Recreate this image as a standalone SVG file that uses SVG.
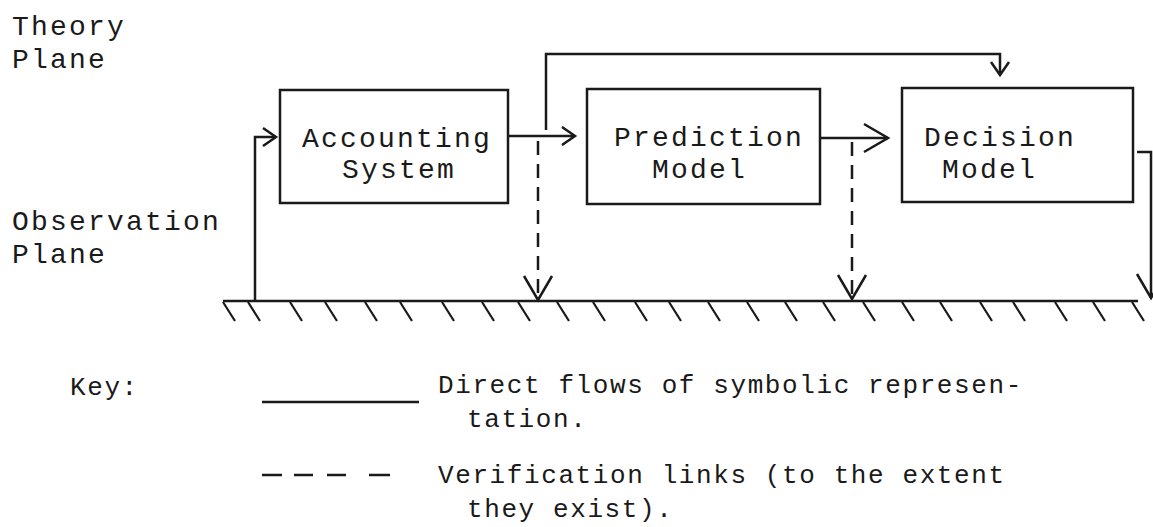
<svg xmlns="http://www.w3.org/2000/svg" width="1153" height="527" viewBox="0 0 1153 527">
<style>
text{font-family:"Liberation Mono","DejaVu Sans Mono",monospace;fill:#1a1a1a}
.lbl{font-size:28px;letter-spacing:2.2px}
.key{font-size:26px;letter-spacing:1.6px}
.box{fill:none;stroke:#1a1a1a;stroke-width:2.5}
.ln{fill:none;stroke:#1a1a1a;stroke-width:2.5}
.dash{fill:none;stroke:#1a1a1a;stroke-width:2.5;stroke-dasharray:14 9}
.hatch{stroke:#1a1a1a;stroke-width:2.2;fill:none}
</style>
<defs>
<marker id="sm" markerUnits="userSpaceOnUse" markerWidth="20" markerHeight="24" refX="14" refY="10" orient="auto" overflow="visible">
<path d="M1,1 L14,10 L1,19" fill="none" stroke="#1a1a1a" stroke-width="2.5"/>
</marker>
<marker id="lg" markerUnits="userSpaceOnUse" markerWidth="30" markerHeight="32" refX="24" refY="14" orient="auto" overflow="visible">
<path d="M0,0 L24,14 L0,28" fill="none" stroke="#1a1a1a" stroke-width="2.5"/>
</marker>
</defs>

<g id="labels">
<text class="lbl" x="12" y="35">Theory</text>
<text class="lbl" x="12" y="68">Plane</text>
<text class="lbl" x="12" y="230">Observation</text>
<text class="lbl" x="12" y="263">Plane</text>
</g>

<g id="accounting">
<rect class="box" x="280" y="90" width="228" height="113"/>
<text class="lbl" x="302" y="147">Accounting</text>
<text class="lbl" x="342" y="178">System</text>
</g>

<g id="prediction">
<rect class="box" x="587" y="89" width="233" height="115"/>
<text class="lbl" x="614" y="146">Prediction</text>
<text class="lbl" x="652" y="178">Model</text>
</g>

<g id="decision">
<rect class="box" x="902" y="88" width="231" height="114"/>
<text class="lbl" x="924" y="146">Decision</text>
<text class="lbl" x="942" y="178">Model</text>
</g>

<g id="ground">
<path class="ln" d="M223,301 H1138"/>
<path class="hatch" d="M223,302 l12,19 M248,302 l12,19 M290,302 l12,19 M325,302 l12,19 M365,302 l12,19 M400,302 l12,19 M442,302 l12,19 M482,302 l12,19 M518,302 l12,19 M557,302 l12,19 M593,302 l12,19 M635,302 l12,19 M669,302 l12,19 M708,302 l12,19 M747,302 l12,19 M785,302 l12,19 M823,302 l12,19 M863,302 l12,19 M902,302 l12,19 M940,302 l12,19 M980,302 l12,19 M1013,302 l12,19 M1055,302 l12,19 M1093,302 l12,19 M1132,302 l12,19"/>
</g>

<g id="connectors">
<path class="ln" d="M255,300 V137 H276" marker-end="url(#sm)"/>
<path class="ln" d="M508,136 H575" marker-end="url(#sm)"/>
<path class="ln" d="M546,130 V54 H1000 V75" marker-end="url(#sm)"/>
<path class="dash" d="M538,141 V300" marker-end="url(#lg)"/>
<path class="ln" d="M820,138 H888" marker-end="url(#lg)"/>
<path class="dash" d="M852,142 V299" marker-end="url(#lg)"/>
<path class="ln" d="M1137,152 H1151 V298" marker-end="url(#lg)"/>
</g>

<g id="key">
<text class="key" x="70" y="395">Key:</text>
<path class="ln" d="M262,402 H419"/>
<text class="key" x="438" y="393">Direct flows of symbolic represen-</text>
<text class="key" x="467" y="427">tation.</text>
<path class="ln" d="M262,475 H282 M294,475 H313 M327,475 H346 M369,475 H390"/>
<text class="key" x="438" y="483">Verification links (to the extent</text>
<text class="key" x="467" y="517">they exist).</text>
</g>
</svg>
